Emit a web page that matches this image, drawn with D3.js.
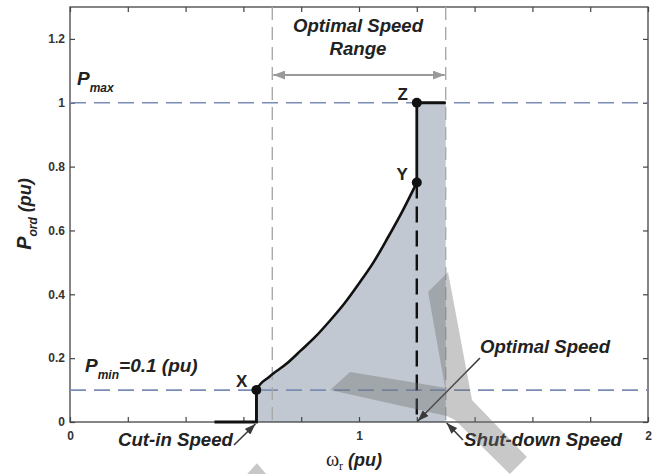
<!DOCTYPE html>
<html>
<head>
<meta charset="utf-8">
<script src="https://cdn.jsdelivr.net/npm/d3@7/dist/d3.min.js"></script>
<style>
  body { margin: 0; background: #fff; }
  .tick text { font-family: "Liberation Sans Narrow", "Arial Narrow", "Liberation Sans", Arial, sans-serif; font-weight: bold; font-size: 12px; fill: #333; }
  .ann { font-family: "Liberation Sans", Arial, sans-serif; font-weight: bold; font-style: italic; fill: #222; }
  .pt { font-family: "Liberation Sans", Arial, sans-serif; font-weight: bold; fill: #222; }
</style>
</head>
<body>
<svg id="chart" width="661" height="474"></svg>
<script>
// Power reference curve between the cut-in point X and point Y
const curveSpeed = [0.645, 0.69, 0.75, 0.80, 0.85, 0.90, 0.95, 1.00, 1.05, 1.10, 1.15, 1.20];
const curvePower = [0.10, 0.142, 0.183, 0.225, 0.268, 0.318, 0.372, 0.434, 0.50, 0.578, 0.66, 0.75];

// Characteristic speeds (pu)
const cutInStart = 0.5;
const cutInSpeed = 0.645;
const optimalSpeed = 1.2;
const optimalRange = [0.7, 1.3];
const shutDownSpeed = 1.3;

// Power levels (pu)
const pMin = 0.1;
const pMax = 1.0;
const pY = 0.75;

// Axis ticks
const xTickValues = [0, 0.2, 0.4, 0.6, 0.8, 1.0, 1.2, 1.4, 1.6, 1.8, 2.0];
const xTickLabels = ["0", "", "", "", "", "1", "", "", "", "", "2"];
const yTickValues = [0, 0.2, 0.4, 0.6, 0.8, 1.0, 1.2];
const yTickLabels = ["0", "0.2", "0.4", "0.6", "0.8", "1", "1.2"];

// Grey overlay strokes, in data units
const overlayArms = [
  [[1.239, 0.407], [1.308, 0.470], [1.391, 0.069], [1.581, -0.110], [1.522, -0.163],
   [1.332, 0.006], [1.304, 0.019], [0.900, 0.100], [0.969, 0.157], [1.298, 0.107]],
  [[0.606, -0.170], [0.647, -0.129], [0.685, -0.170]]
];

const svg = d3.select("#chart");
const x = d3.scaleLinear().domain([0, 2]).range([70, 648]);
const y = d3.scaleLinear().domain([0, 1.3]).range([422, 7]);

// Shaded operating region
const regionPts = [[cutInSpeed, 0]]
  .concat(curveSpeed.map((s, i) => [s, curvePower[i]]))
  .concat([[optimalSpeed, pMax], [shutDownSpeed, pMax], [shutDownSpeed, 0]]);
svg.append("path")
  .attr("d", d3.line().x(d => x(d[0])).y(d => y(d[1]))(regionPts) + "Z")
  .attr("fill", "#c1c8d1");

// Frame
svg.append("rect")
  .attr("x", x(0)).attr("y", y(1.3))
  .attr("width", x(2) - x(0)).attr("height", y(0) - y(1.3))
  .attr("fill", "none").attr("stroke", "#444").attr("stroke-width", 1.3);

// Axes with inward ticks
const fmtX = v => xTickLabels[xTickValues.findIndex(t => Math.abs(t - v) < 1e-9)];
const fmtY = v => yTickLabels[yTickValues.findIndex(t => Math.abs(t - v) < 1e-9)];

const gB = svg.append("g").attr("transform", `translate(0,${y(0)})`)
  .call(d3.axisBottom(x).tickValues(xTickValues).tickFormat(fmtX).tickSizeInner(-5).tickSizeOuter(0).tickPadding(9.5));
const gT = svg.append("g").attr("transform", `translate(0,${y(1.3)})`)
  .call(d3.axisTop(x).tickValues(xTickValues).tickFormat("").tickSizeInner(-5).tickSizeOuter(0));
const gL = svg.append("g").attr("transform", `translate(${x(0)},0)`)
  .call(d3.axisLeft(y).tickValues(yTickValues).tickFormat(fmtY).tickSizeInner(-5).tickSizeOuter(0).tickPadding(5));
const gR = svg.append("g").attr("transform", `translate(${x(2)},0)`)
  .call(d3.axisRight(y).tickValues(yTickValues).tickFormat("").tickSizeInner(-5).tickSizeOuter(0));
[gB, gT, gL, gR].forEach(g => {
  g.select(".domain").remove();
  g.selectAll(".tick line").attr("stroke", "#444").attr("stroke-width", 1.2);
});

// Power limit lines
[pMax, pMin].forEach(p => {
  svg.append("line")
    .attr("x1", x(0)).attr("x2", x(2)).attr("y1", y(p)).attr("y2", y(p))
    .attr("stroke", "#7b8cb4").attr("stroke-width", 1.6).attr("stroke-dasharray", "16,8");
});

// Optimal speed range bounds
optimalRange.forEach(s => {
  svg.append("line")
    .attr("x1", x(s)).attr("x2", x(s)).attr("y1", y(1.3)).attr("y2", y(0))
    .attr("stroke", "#a9a9a9").attr("stroke-width", 1.4).attr("stroke-dasharray", "13,7");
});

// Arrow markers
const defs = svg.append("defs");
function marker(id, color, len, wid) {
  defs.append("marker").attr("id", id)
    .attr("viewBox", `0 0 ${len} ${wid}`).attr("refX", len).attr("refY", wid / 2)
    .attr("markerWidth", len).attr("markerHeight", wid).attr("markerUnits", "userSpaceOnUse")
    .attr("orient", "auto-start-reverse")
    .append("path").attr("d", `M0,0L${len},${wid / 2}L0,${wid}Z`).attr("fill", color);
}
marker("grayHead", "#9a9a9a", 12, 9);
marker("darkHead", "#3a3a3a", 11, 8);

// Range double arrow
svg.append("line")
  .attr("x1", x(optimalRange[0]) + 1).attr("x2", x(optimalRange[1]) - 1)
  .attr("y1", 75).attr("y2", 75)
  .attr("stroke", "#9a9a9a").attr("stroke-width", 2.2)
  .attr("marker-start", "url(#grayHead)").attr("marker-end", "url(#grayHead)");

// Vertical dashed line at the optimal speed
svg.append("line")
  .attr("x1", x(optimalSpeed)).attr("x2", x(optimalSpeed))
  .attr("y1", y(pY)).attr("y2", y(0))
  .attr("stroke", "#111").attr("stroke-width", 2.4).attr("stroke-dasharray", "16,8");

// Operating characteristic
const opPath = [[cutInStart, 0], [cutInSpeed, 0]]
  .concat(curveSpeed.map((s, i) => [s, curvePower[i]]))
  .concat([[optimalSpeed, pMax], [shutDownSpeed, pMax]]);
svg.append("path")
  .attr("d", d3.line().x(d => x(d[0])).y(d => y(d[1])).curve(d3.curveMonotoneX)(opPath.slice(1, opPath.length - 2)))
  .attr("fill", "none").attr("stroke", "#111").attr("stroke-width", 2.6);
svg.append("path")
  .attr("d", d3.line().x(d => x(d[0])).y(d => y(d[1]))([opPath[0], opPath[1], [cutInSpeed, pMin]]))
  .attr("fill", "none").attr("stroke", "#111").attr("stroke-width", 2.8);
svg.append("path")
  .attr("d", d3.line().x(d => x(d[0])).y(d => y(d[1]))([[optimalSpeed, pY], [optimalSpeed, pMax], [shutDownSpeed, pMax]]))
  .attr("fill", "none").attr("stroke", "#111").attr("stroke-width", 2.8);

// Points X, Y, Z
const pts = [["X", cutInSpeed, pMin], ["Y", optimalSpeed, pY], ["Z", optimalSpeed, pMax]];
svg.selectAll("circle.pt").data(pts).enter().append("circle")
  .attr("cx", d => x(d[1])).attr("cy", d => y(d[2])).attr("r", 5).attr("fill", "#111");
svg.selectAll("text.pt").data(pts).enter().append("text").attr("class", "pt")
  .attr("x", d => x(d[1]) - 9).attr("y", d => y(d[2]) - 3)
  .attr("text-anchor", "end").attr("font-size", 17).text(d => d[0]);

// Annotations
svg.append("text").attr("class", "ann").attr("x", 358).attr("y", 32)
  .attr("text-anchor", "middle").attr("font-size", 19)
  .attr("textLength", 130).attr("lengthAdjust", "spacingAndGlyphs").text("Optimal Speed");
svg.append("text").attr("class", "ann").attr("x", 358).attr("y", 55)
  .attr("text-anchor", "middle").attr("font-size", 19)
  .attr("textLength", 57).attr("lengthAdjust", "spacingAndGlyphs").text("Range");

const pmaxT = svg.append("text").attr("class", "ann").attr("x", 77).attr("y", 85).attr("font-size", 19);
pmaxT.append("tspan").text("P");
pmaxT.append("tspan").attr("font-size", 12).attr("dy", 7).text("max");

const pminT = svg.append("text").attr("class", "ann").attr("x", 85).attr("y", 372).attr("font-size", 19);
pminT.append("tspan").text("P");
pminT.append("tspan").attr("font-size", 12).attr("dy", 7).text("min");
pminT.append("tspan").attr("dy", -7).text("=0.1 (pu)");

svg.append("text").attr("class", "ann").attr("x", 480).attr("y", 353).attr("font-size", 19)
  .attr("textLength", 130).attr("lengthAdjust", "spacingAndGlyphs").text("Optimal Speed");
svg.append("text").attr("class", "ann").attr("x", 118).attr("y", 446).attr("font-size", 19)
  .attr("textLength", 115).attr("lengthAdjust", "spacingAndGlyphs").text("Cut-in Speed");
svg.append("text").attr("class", "ann").attr("x", 464).attr("y", 446).attr("font-size", 19)
  .attr("textLength", 158).attr("lengthAdjust", "spacingAndGlyphs").text("Shut-down Speed");

// Pointer arrows
const pointers = [
  [[480, 358], [x(optimalSpeed) + 1, y(0) - 1]],
  [[463, 440], [x(shutDownSpeed) + 1, y(0) + 1]],
  [[234, 445], [x(cutInSpeed) - 1, y(0) + 2]]
];
pointers.forEach(p => {
  svg.append("line")
    .attr("x1", p[0][0]).attr("y1", p[0][1]).attr("x2", p[1][0]).attr("y2", p[1][1])
    .attr("stroke", "#3a3a3a").attr("stroke-width", 1.6).attr("marker-end", "url(#darkHead)");
});

// Axis titles
const xt = svg.append("text").attr("x", 354).attr("y", 466).attr("text-anchor", "middle").attr("fill", "#222");
xt.append("tspan").attr("font-family", "'Liberation Serif', 'Times New Roman', serif").attr("font-size", 20).text("ω");
xt.append("tspan").attr("font-family", "'Liberation Serif', 'Times New Roman', serif").attr("font-size", 12).attr("dy", 4).text("r");
xt.append("tspan").attr("class", "ann").attr("font-size", 18).attr("dy", -4).text(" (pu)");

const yt = svg.append("text").attr("class", "ann").attr("font-size", 20)
  .attr("transform", "translate(31,214) rotate(-90)").attr("text-anchor", "middle");
yt.append("tspan").text("P");
yt.append("tspan").attr("font-size", 12).attr("dy", 6).text("ord");
yt.append("tspan").attr("font-size", 18).attr("dy", -6).text(" (pu)");

// Grey overlay strokes
svg.selectAll("path.arm").data(overlayArms).enter().append("path")
  .attr("d", d => d3.line().x(p => x(p[0])).y(p => y(p[1]))(d) + "Z")
  .attr("fill", "#6e6e6e").attr("fill-opacity", 0.38);
</script>
</body>
</html>
